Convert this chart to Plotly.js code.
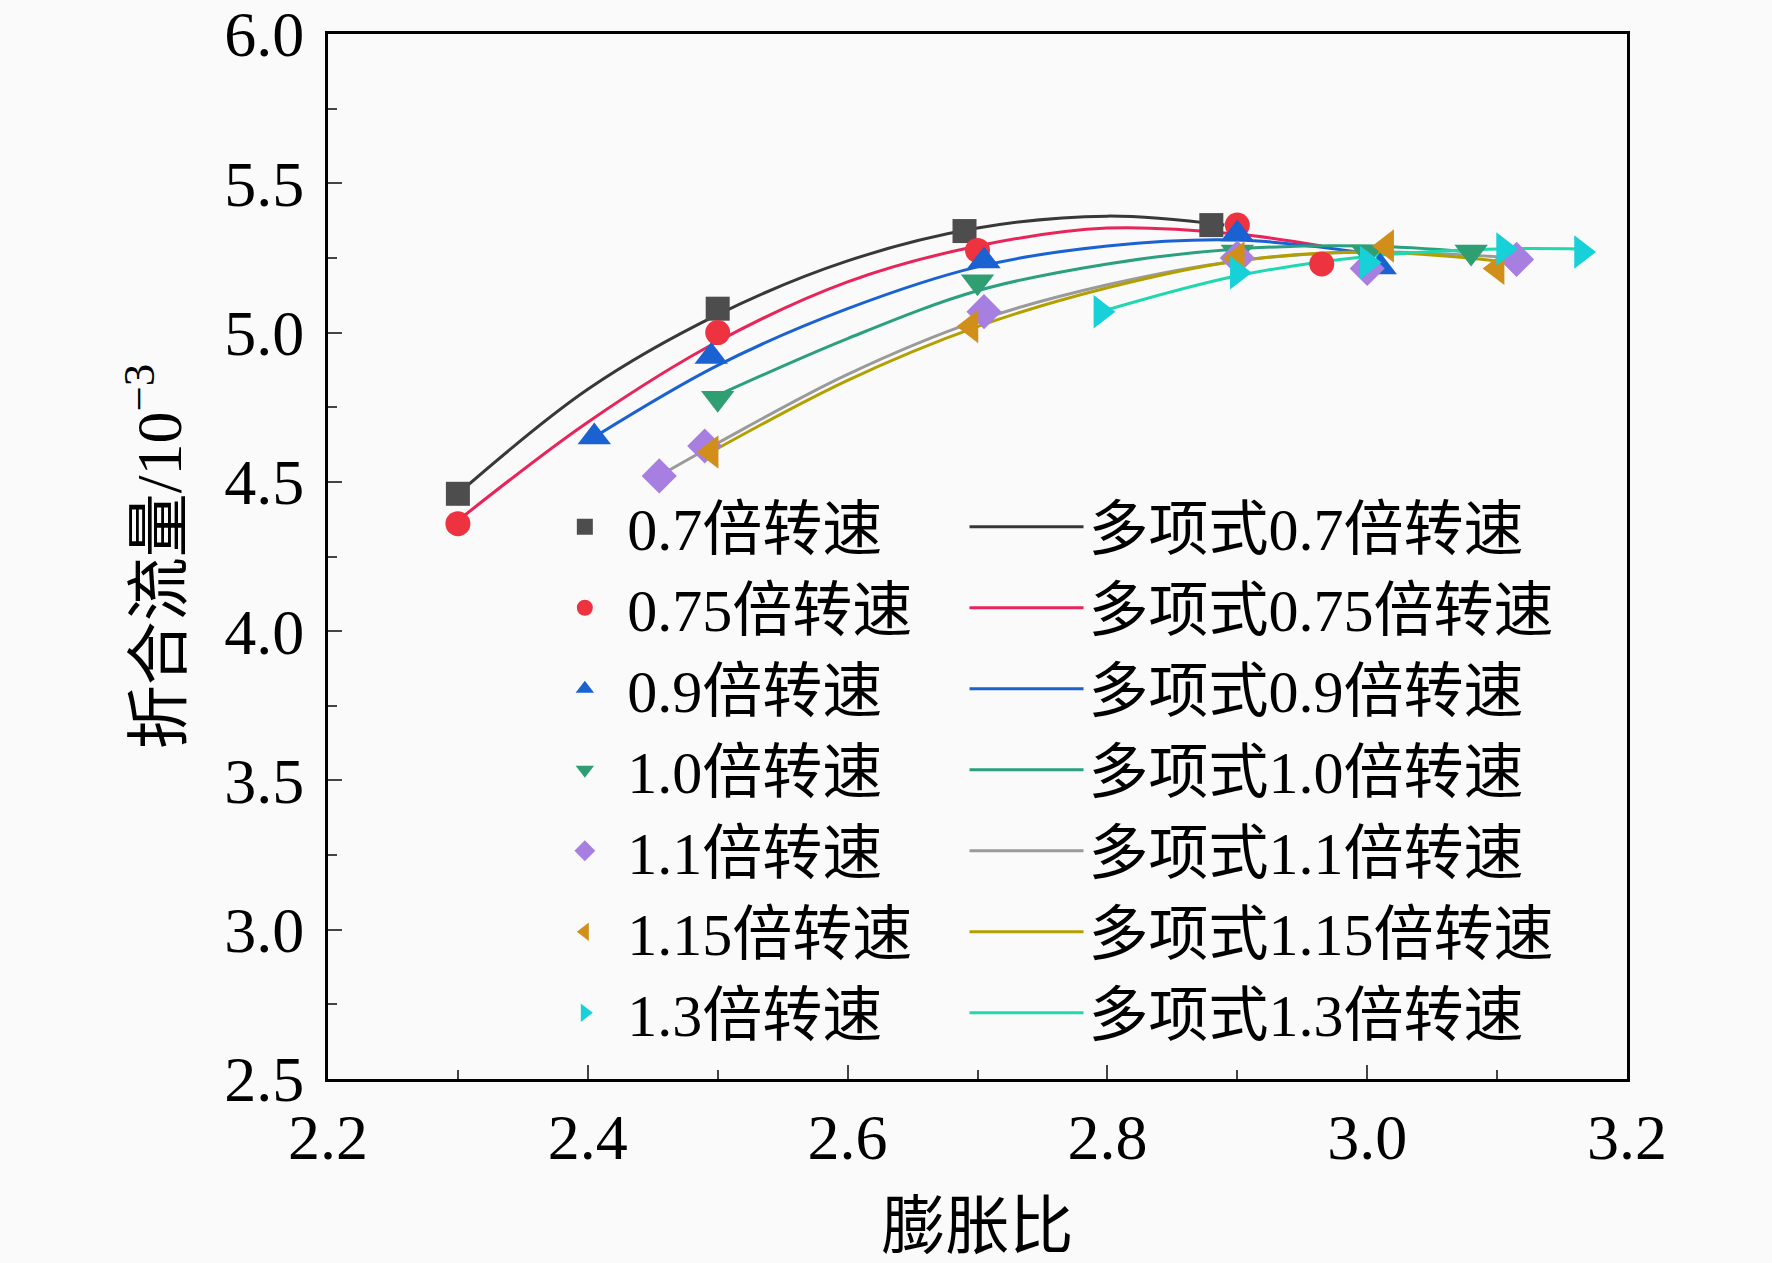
<!DOCTYPE html>
<html>
<head>
<meta charset="utf-8">
<script src="https://cdn.plot.ly/plotly-3.0.1.min.js"></script>
<style>
  html, body { margin: 0; padding: 0; background: #fafafa; }
  #chart { width: 1772px; height: 1263px; }
</style>
</head>
<body>
<div id="chart"></div>
<script>
const names = ["0.7倍转速", "0.75倍转速", "0.9倍转速", "1.0倍转速", "1.1倍转速", "1.15倍转速", "1.3倍转速"];

const x07 = [2.30, 2.50, 2.69, 2.88];
const y07 = [4.46, 5.08, 5.34, 5.36];
const x075 = [2.30, 2.50, 2.70, 2.90, 2.965];
const y075 = [4.36, 5.00, 5.275, 5.36, 5.23];
const x09 = [2.405, 2.495, 2.705, 2.90, 3.01];
const y09 = [4.65, 4.92, 5.24, 5.33, 5.22];
const x10 = [2.50, 2.70, 2.90, 3.00, 3.08];
const y10 = [4.78, 5.17, 5.27, 5.27, 5.27];
const x11 = [2.455, 2.49, 2.705, 2.90, 3.00, 3.115];
const y11 = [4.52, 4.62, 5.07, 5.25, 5.215, 5.245];
const x115 = [2.495, 2.695, 2.90, 3.015, 3.10];
const y115 = [4.60, 5.02, 5.25, 5.29, 5.215];
const x13 = [2.795, 2.90, 3.00, 3.105, 3.165];
const y13 = [5.07, 5.20, 5.235, 5.28, 5.27];

// polynomial fit curves
const fx07 = [2.30, 2.40, 2.50, 2.60, 2.70, 2.80, 2.89];
const fy07 = [4.46, 4.81, 5.06, 5.24, 5.35, 5.39, 5.36];
const fx075 = [2.30, 2.40, 2.50, 2.60, 2.70, 2.80, 2.90, 2.965];
const fy075 = [4.37, 4.70, 4.97, 5.17, 5.29, 5.35, 5.33, 5.29];
const fx09 = [2.405, 2.50, 2.60, 2.70, 2.80, 2.90, 3.01];
const fy09 = [4.65, 4.89, 5.08, 5.22, 5.29, 5.31, 5.26];
const fx10 = [2.50, 2.60, 2.70, 2.80, 2.90, 3.00, 3.08];
const fy10 = [4.79, 4.98, 5.14, 5.23, 5.28, 5.29, 5.27];
const fx11 = [2.455, 2.50, 2.60, 2.70, 2.80, 2.90, 3.00, 3.115];
const fy11 = [4.52, 4.63, 4.86, 5.04, 5.16, 5.24, 5.27, 5.25];
const fx115 = [2.495, 2.60, 2.70, 2.80, 2.90, 3.00, 3.10];
const fy115 = [4.60, 4.84, 5.02, 5.15, 5.24, 5.27, 5.24];
const fx13 = [2.795, 2.90, 3.00, 3.10, 3.165];
const fy13 = [5.07, 5.19, 5.255, 5.28, 5.28];

const pts = [[x07, y07], [x075, y075], [x09, y09], [x10, y10], [x11, y11], [x115, y115], [x13, y13]];
const fits = [[fx07, fy07], [fx075, fy075], [fx09, fy09], [fx10, fy10], [fx11, fy11], [fx115, fy115], [fx13, fy13]];

const markerColors = ["#4d4d4d", "#ee3340", "#1a62d1", "#2f9e72", "#a77fe0", "#d18f1a", "#17d0d8"];
const lineColors = ["#383838", "#e8245a", "#1a62d1", "#2aa07e", "#9a9a9a", "#b3a000", "#20d8b0"];
const symbols = ["square", "circle", "triangle-up", "triangle-down", "diamond", "triangle-left", "triangle-right"];
const sizes = [24, 25, 29, 29, 27, 29, 29];

const font = "'Liberation Serif', 'Noto Sans CJK SC', serif";

const traces = [];
fits.forEach((f, i) => {
    traces.push({
        x: f[0], y: f[1],
        mode: "lines", type: "scatter",
        name: "多项式" + names[i],
        legend: "legend2",
        line: { color: lineColors[i], width: 3, shape: "spline", smoothing: 1 },
        hoverinfo: "skip"
    });
});
pts.forEach((p, i) => {
    traces.push({
        x: p[0], y: p[1],
        mode: "markers", type: "scatter",
        name: names[i],
        legend: "legend",
        marker: { symbol: symbols[i], size: sizes[i], color: markerColors[i] }
    });
});

const layout = {
    width: 1772,
    height: 1263,
    paper_bgcolor: "#fafafa",
    plot_bgcolor: "#fafafa",
    font: { family: font, size: 64, color: "#000" },
    margin: { l: 328, r: 145, t: 34, b: 184 },
    xaxis: {
        title: { text: "膨胀比", font: { size: 64 }, standoff: 32 },
        range: [2.2, 3.2],
        dtick: 0.2,
        tickformat: ".1f",
        ticks: "inside",
        ticklen: 14,
        tickwidth: 2,
        ticklabeloverflow: "allow",
        minor: { dtick: 0.1, ticks: "inside", ticklen: 9, tickwidth: 2 },
        showgrid: false,
        zeroline: false,
        showline: true,
        linecolor: "#000",
        linewidth: 3,
        mirror: true
    },
    yaxis: {
        title: { text: "折合流量/10<sup>−3</sup>", font: { size: 64 }, standoff: 22 },
        range: [2.5, 6.0],
        dtick: 0.5,
        tickformat: ".1f",
        ticks: "inside",
        ticklen: 14,
        tickwidth: 2,
        ticklabelstandoff: 8,
        ticklabeloverflow: "allow",
        minor: { dtick: 0.25, ticks: "inside", ticklen: 9, tickwidth: 2 },
        showgrid: false,
        zeroline: false,
        showline: true,
        linecolor: "#000",
        linewidth: 3,
        mirror: true
    },
    showlegend: true,
    legend: {
        x: 0.165, y: 0.572, xanchor: "left", yanchor: "top",
        bgcolor: "rgba(0,0,0,0)",
        font: { size: 60 },
        itemwidth: 75
    },
    legend2: {
        x: 0.49, y: 0.572, xanchor: "left", yanchor: "top",
        bgcolor: "rgba(0,0,0,0)",
        font: { size: 60 },
        itemwidth: 114
    }
};

Plotly.newPlot("chart", traces, layout, { displayModeBar: false, staticPlot: true });
</script>
</body>
</html>
